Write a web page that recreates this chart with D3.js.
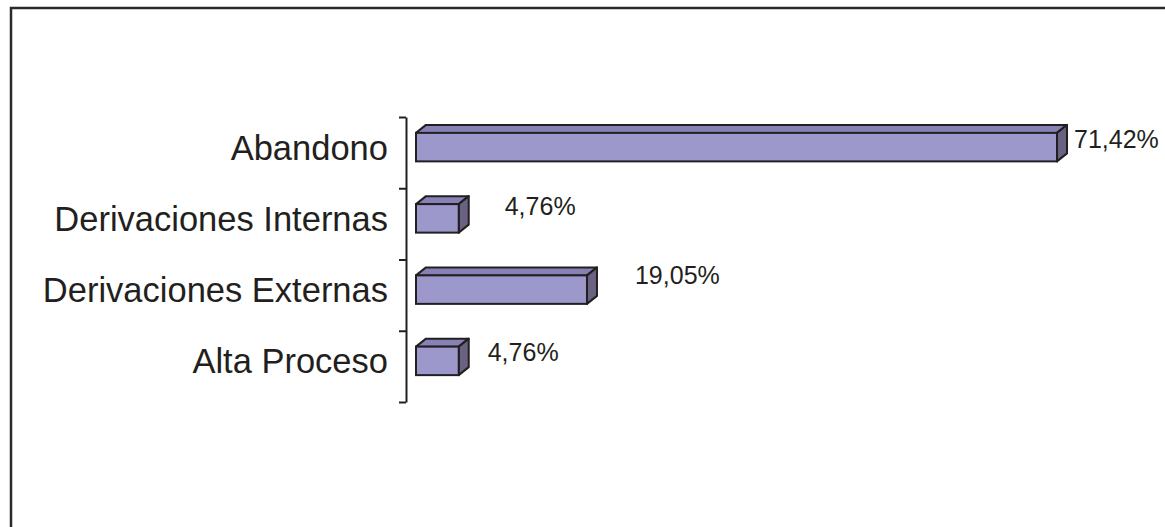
<!DOCTYPE html>
<html lang="es">
<head>
  <meta charset="UTF-8">
  <title>Distribución de egresos</title>
  <script src="https://d3js.org/d3.v7.min.js"></script>
  <style>
    body {
      margin: 0;
      background: #fff;
      font-family: "Liberation Sans", Arial, sans-serif;
    }
    svg { display: block; }
  </style>
</head>
<body>
  <div id="chart"></div>
  <script>
    // datos
    const categories = ["Abandono", "Derivaciones Internas", "Derivaciones Externas", "Alta Proceso"];
    const values = [71.42, 4.76, 19.05, 4.76];
    // desplazamientos manuales de las etiquetas (como en el original)
    const labelNudge = [[17, 0.5], [46, -3.5], [48, -6], [29, 0]];

    const W = 1165, H = 527;
    const depth = { x: 10, y: 8 };

    const svg = d3.select("#chart").append("svg")
      .attr("width", W)
      .attr("height", H);

    // marco
    svg.append("path")
      .attr("d", `M11,${H} L11,8 L${W},8`)
      .attr("fill", "none")
      .attr("stroke", "#2b2a2b")
      .attr("stroke-width", 2.5);

    const x = d3.scaleLinear().domain([0, 80]).range([416, 1134]);

    const y = d3.scaleBand()
      .domain(categories)
      .range([117, 402])
      .paddingInner(0.6)
      .paddingOuter(0.3);

    const locale = d3.formatLocale({ decimal: ",", thousands: ".", grouping: [3], currency: ["", "€"] });
    const fmt = v => locale.format(".2f")(v) + "%";

    // eje con marcas en los límites de categoría
    const yTicks = d3.scaleLinear().domain([0, categories.length]).range([117, 402]);
    svg.append("g")
      .attr("transform", "translate(406,0)")
      .call(d3.axisLeft(yTicks).ticks(categories.length).tickFormat("").tickSize(7).tickSizeOuter(0))
      .call(g => g.selectAll("path, line").attr("stroke", "#231f20").attr("stroke-width", 2));

    const rows = categories.map((c, i) => ({ c, v: values[i], nudge: labelNudge[i] }));

    const bar = svg.selectAll("g.bar")
      .data(rows)
      .enter().append("g")
      .attr("class", "bar");

    const frontTop = d => y(d.c) - 5.5;
    const frontBot = d => frontTop(d) + y.bandwidth();

    // cara superior
    bar.append("path")
      .attr("d", d => {
        const x0 = x(0), x1 = x(d.v), y0 = frontTop(d);
        return `M${x0},${y0} L${x0 + depth.x},${y0 - depth.y} L${x1 + depth.x},${y0 - depth.y} L${x1},${y0} Z`;
      })
      .attr("fill", "#8682b6")
      .attr("stroke", "#231f20")
      .attr("stroke-width", 2)
      .attr("stroke-linejoin", "round");

    // cara lateral
    bar.append("path")
      .attr("d", d => {
        const x1 = x(d.v), y0 = frontTop(d), y1 = frontBot(d);
        return `M${x1},${y0} L${x1 + depth.x},${y0 - depth.y} L${x1 + depth.x},${y1 - depth.y} L${x1},${y1} Z`;
      })
      .attr("fill", "#6a6282")
      .attr("stroke", "#231f20")
      .attr("stroke-width", 2)
      .attr("stroke-linejoin", "round");

    // cara frontal
    bar.append("rect")
      .attr("x", x(0))
      .attr("y", d => frontTop(d))
      .attr("width", d => x(d.v) - x(0))
      .attr("height", y.bandwidth())
      .attr("fill", "#9c98cc")
      .attr("stroke", "#231f20")
      .attr("stroke-width", 2);

    // etiquetas de categoría
    svg.selectAll("text.cat")
      .data(rows)
      .enter().append("text")
      .attr("class", "cat")
      .attr("x", 388)
      .attr("y", d => frontTop(d) + y.bandwidth() / 2 + 12.5)
      .attr("text-anchor", "end")
      .attr("font-size", 34.5)
      .attr("fill", "#231f20")
      .text(d => d.c);

    // etiquetas de valor
    svg.selectAll("text.val")
      .data(rows)
      .enter().append("text")
      .attr("class", "val")
      .attr("x", d => x(d.v) + d.nudge[0])
      .attr("y", d => frontTop(d) + y.bandwidth() / 2 + d.nudge[1])
      .attr("font-size", 25)
      .attr("fill", "#231f20")
      .text(d => fmt(d.v));
  </script>
</body>
</html>
